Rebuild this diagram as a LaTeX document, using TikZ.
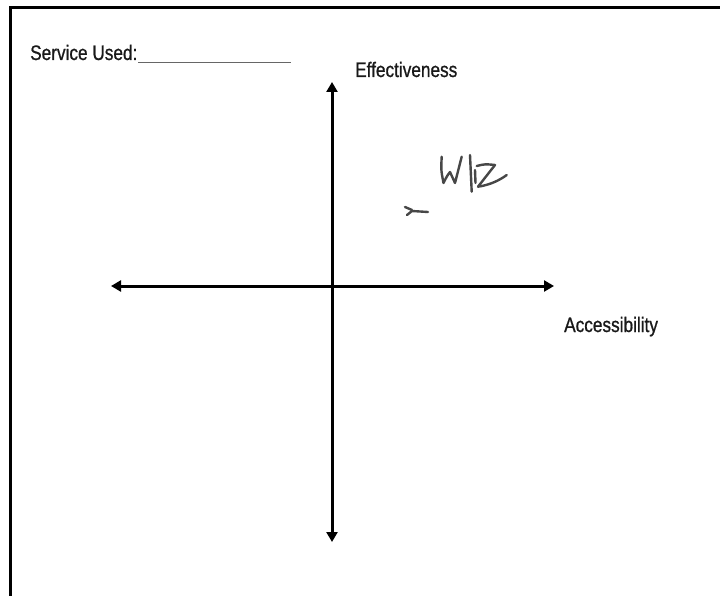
\documentclass[tikz,border=0pt]{standalone}
\usepackage{fontspec}
\setmainfont{Liberation Sans}
\newfontfamily\condfont[FakeStretch=0.82,FakeBold=0.8]{Liberation Sans}
\usetikzlibrary{arrows.meta}
\begin{document}
\begin{tikzpicture}[x=1pt,y=-1pt,
  axis/.style={line width=3pt,{Triangle[length=10pt,width=11pt]}-{Triangle[length=10pt,width=11pt]}},
  lbl/.style={inner sep=0pt,anchor=base west,font=\condfont\fontsize{21}{21}\selectfont,text=black!90},
  ink/.style={line width=2.4pt,black!72,line cap=round,line join=round}]
\useasboundingbox (0,0) rectangle (720,596);
\fill[white] (0,0) rectangle (720,596);
% border
\draw[line width=3pt] (10,596) -- (10,8) -- (720,8);
% labels
\node[lbl] (svc) at (30,60) {Service Used:};
\coordinate (ulA) at (138,63);
\coordinate (ulB) at (291,63);
\draw[line width=1pt,black!60] (ulA) -- (ulB);
\node[lbl] (eff) at (355,77) {Effectiveness};
\node[lbl] (acc) at (564,332) {Accessibility};
% axes
\coordinate (top) at (332,82);
\coordinate (bot) at (332,542);
\coordinate (lft) at (111,286);
\coordinate (rgt) at (554,286);
\draw[axis] (bot) -- (top);
\draw[axis] (lft) -- (rgt);
% handwriting
\draw[ink] (441.7,156.7) .. controls (441,170) .. (443.5,183) .. controls (447,176) .. (450,172) .. controls (452,178) .. (455,183) .. controls (459,170) .. (461.7,156.7);
\draw[ink] (470,155) -- (471.7,191.7);
\draw[ink] (475,170) -- (475.5,183);
\draw[ink] (476.7,166) .. controls (485,164) .. (495,165) -- (478,186.7) .. controls (490,185) and (500,180) .. (506.7,175);
\draw[ink] (405,207) -- (412,210);
\draw[ink] (407,215) -- (412,211) -- (428,212);
\end{tikzpicture}
\end{document}
